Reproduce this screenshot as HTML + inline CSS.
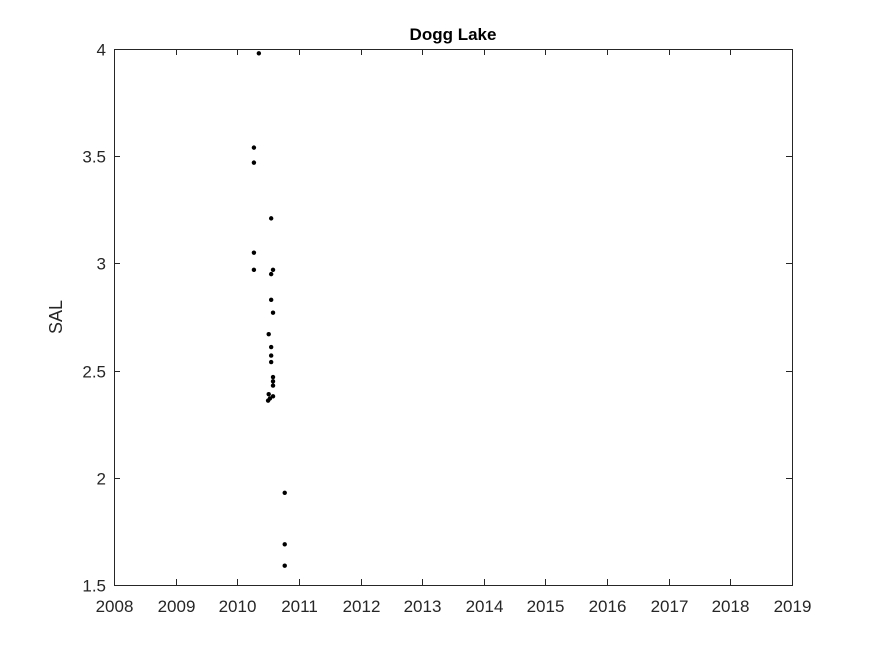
<!DOCTYPE html>
<html><head><meta charset="utf-8"><style>
body{margin:0;background:#fff;}
svg{display:block;font-family:"Liberation Sans",Arial,sans-serif;}
</style></head><body>
<svg id="chart" width="875" height="656">
<rect width="875" height="656" fill="#fff"/>
<text x="453" y="40" text-anchor="middle" font-size="17" font-weight="bold">Dogg Lake</text>
<text transform="translate(62,317) rotate(-90)" text-anchor="middle" font-size="18" fill="#262626">SAL</text>
<g id="axes"></g>
<g id="marks"></g>
</svg>
<script>
const years=[2010.35,2010.27,2010.27,2010.55,2010.27,2010.27,2010.58,2010.55,2010.55,2010.58,2010.51,2010.55,2010.55,2010.55,2010.58,2010.58,2010.58,2010.51,2010.58,2010.53,2010.50,2010.77,2010.77,2010.77];
const sal=[3.98,3.54,3.47,3.21,3.05,2.97,2.97,2.95,2.83,2.77,2.67,2.61,2.57,2.54,2.47,2.45,2.43,2.39,2.38,2.37,2.36,1.93,1.69,1.59];
const xTicks=[2008,2009,2010,2011,2012,2013,2014,2015,2016,2017,2018,2019];
const yTicks=[1.5,2,2.5,3,3.5,4];
const yTickLabels=["1.5","2","2.5","3","3.5","4"];
const L=114,R=792,T=49,B=585;
const xs=v=>L+(v-2008)/11*(R-L);
const ys=v=>B-(v-1.5)/2.5*(B-T);
const NS="http://www.w3.org/2000/svg";
const ax=document.getElementById('axes'),mk=document.getElementById('marks');
function mkEl(t,a,p){const e=document.createElementNS(NS,t);for(const k in a)e.setAttribute(k,a[k]);p.appendChild(e);return e;}
const box=mkEl('rect',{x:L+0.5,y:T+0.5,width:R-L,height:B-T,fill:'none',stroke:'#262626','stroke-width':1},ax);


xTicks.forEach(v=>{const x=Math.round(xs(v))+0.5;
mkEl('line',{x1:x,x2:x,y1:B,y2:B-6,stroke:'#262626'},ax);
mkEl('line',{x1:x,x2:x,y1:T,y2:T+6,stroke:'#262626'},ax);
const t=mkEl('text',{x:x,y:B+27,'text-anchor':'middle','font-size':17,fill:'#262626'},ax);t.textContent=v;

});
yTicks.forEach((v,i)=>{const y=Math.round(ys(v))+0.5;
mkEl('line',{x1:L,x2:L+6,y1:y,y2:y,stroke:'#262626'},ax);
mkEl('line',{x1:R,x2:R-6,y1:y,y2:y,stroke:'#262626'},ax);
const t=mkEl('text',{x:L-8,y:y+6,'text-anchor':'end','font-size':17,fill:'#262626'},ax);t.textContent=yTickLabels[i];

});
years.forEach((v,i)=>{const c=mkEl('circle',{cx:xs(v),cy:ys(sal[i]),r:2.2,fill:'#000'},mk);

});
</script>
</body></html>
